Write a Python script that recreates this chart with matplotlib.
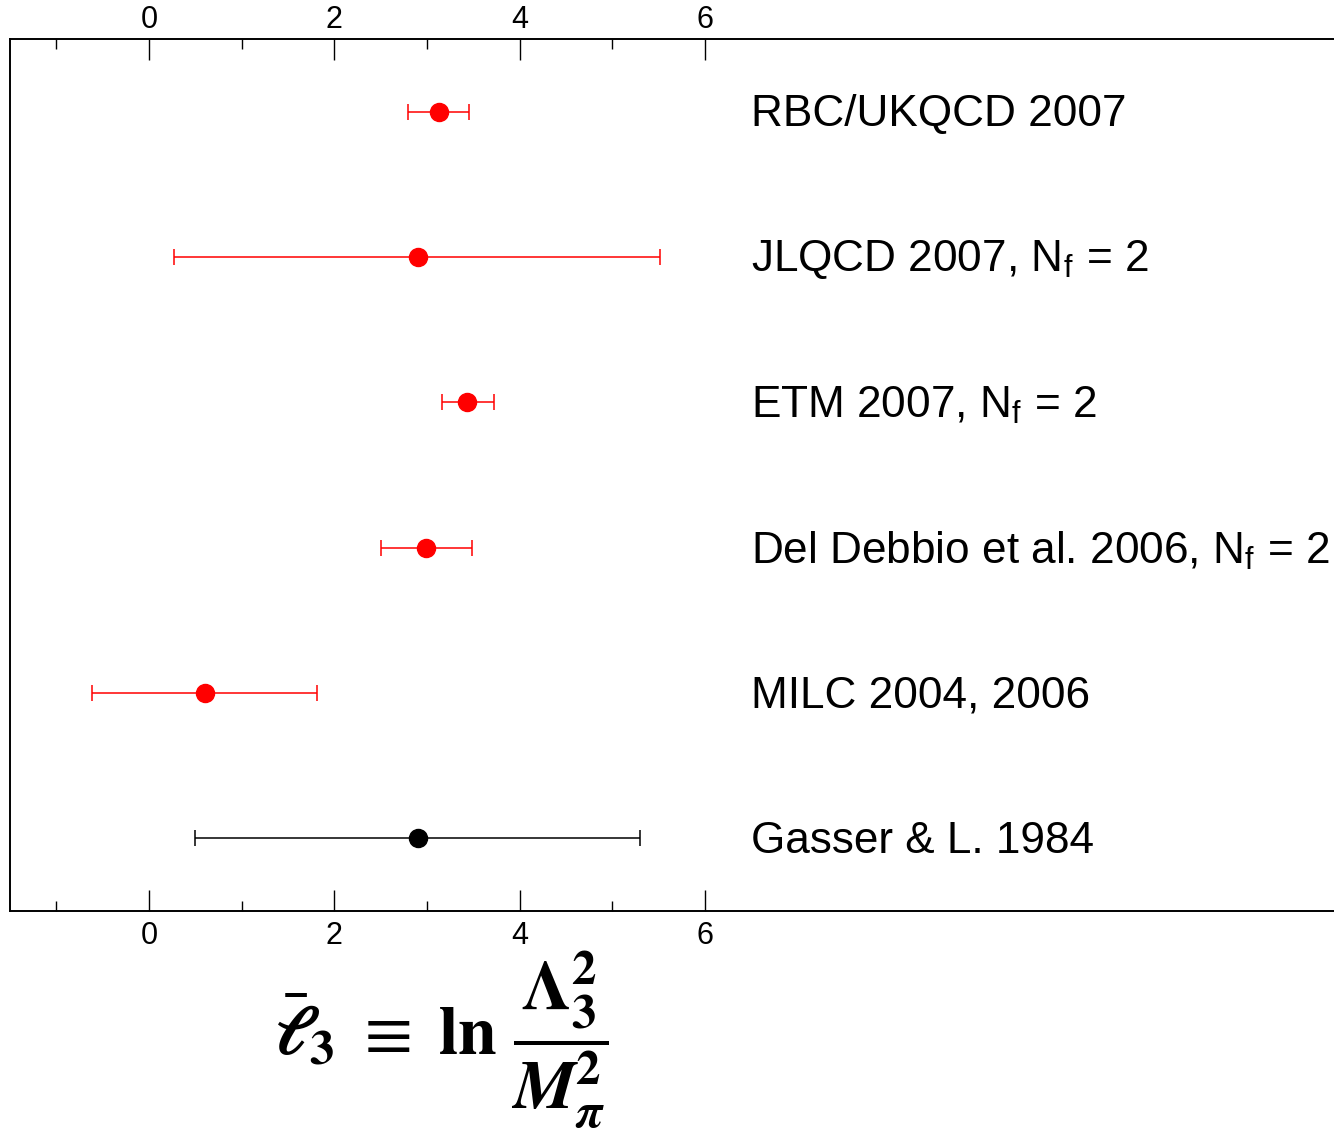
import numpy as np
import matplotlib.pyplot as plt
from matplotlib.ticker import FixedLocator

plt.rcParams['font.family'] = ['Liberation Sans', 'DejaVu Sans']
plt.rcParams['mathtext.fontset'] = 'stix'

labels = ['RBC/UKQCD 2007',
          'JLQCD 2007, N$_\\mathregular{f}$ = 2',
          'ETM 2007, N$_\\mathregular{f}$ = 2',
          'Del Debbio et al. 2006, N$_\\mathregular{f}$ = 2',
          'MILC 2004, 2006',
          'Gasser & L. 1984']
values = [3.13, 2.90, 3.43, 2.99, 0.60, 2.90]
err_lo = [0.33, 2.63, 0.27, 0.49, 1.22, 2.40]
err_hi = [0.33, 2.62, 0.29, 0.50, 1.21, 2.40]
colors = ['red', 'red', 'red', 'red', 'red', 'black']
ypos = [6, 5, 4, 3, 2, 1]
major = [0, 2, 4, 6]
minor = [-1, 1, 3, 5]

fig = plt.figure(figsize=(13.34, 11.29), dpi=100)
ax = fig.add_axes([0.0075, 0.1931, 1.0, 0.9655 - 0.1931])

for i in range(len(values)):
    ax.errorbar(values[i], ypos[i], xerr=[[err_lo[i]], [err_hi[i]]],
                fmt='o', color=colors[i], ms=13, elinewidth=1.1,
                capsize=6, capthick=1.1)
    ax.text(6.5, ypos[i] - 0.02, labels[i], fontsize=31.8, va='center', ha='left')

ax.set_xlim(-1.5, 12.9)
ax.set_ylim(0.5, 6.5)
ax.set_yticks([])

ax2 = ax.twiny()
ax2.set_xlim(ax.get_xlim())
for a in [ax, ax2]:
    a.xaxis.set_major_locator(FixedLocator(major))
    a.xaxis.set_minor_locator(FixedLocator(minor))
    a.xaxis.set_minor_formatter(plt.NullFormatter())
    a.tick_params(axis='x', which='both', direction='in', width=1)
    a.tick_params(axis='x', which='major', length=15)
    a.tick_params(axis='x', which='minor', length=7)
    for lab in a.xaxis.get_majorticklabels():
        lab.set_fontsize(22)
        lab.set_family(['Liberation Sans Narrow', 'Liberation Sans'])
ax.tick_params(axis='x', which='major', pad=7)
ax2.tick_params(axis='x', which='major', pad=2.5)
for s in list(ax.spines.values()) + list(ax2.spines.values()):
    s.set_linewidth(1.2)

fig.text(0.331, 0.079,
         r'$\bar{\boldsymbol{\ell}}_\mathbf{3}\ \equiv\ \mathbf{ln}\ \dfrac{\mathbf{\Lambda}_\mathbf{3}^\mathbf{2}}{\boldsymbol{M}_{\boldsymbol{\pi}}^\mathbf{2}}$',
         fontsize=50, ha='center', va='center')

fig.savefig('out.png', dpi=100)
